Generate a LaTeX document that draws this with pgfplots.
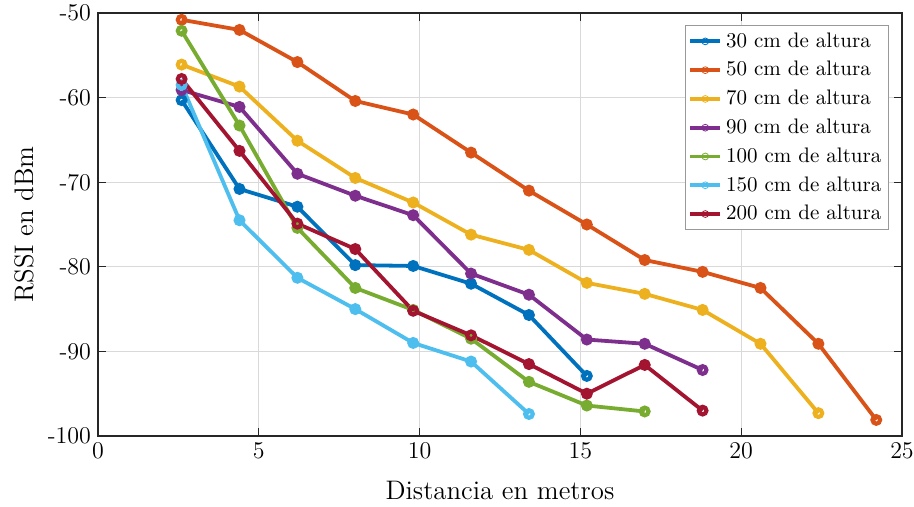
\documentclass[border=0pt]{standalone}
\usepackage{pgfplots}
\pgfplotsset{compat=1.18}
\definecolor{c1}{rgb}{0,0.447,0.741}
\definecolor{c2}{rgb}{0.85,0.325,0.098}
\definecolor{c3}{rgb}{0.929,0.694,0.125}
\definecolor{c4}{rgb}{0.494,0.184,0.556}
\definecolor{c5}{rgb}{0.466,0.674,0.188}
\definecolor{c6}{rgb}{0.301,0.745,0.933}
\definecolor{c7}{rgb}{0.635,0.078,0.184}
\definecolor{axc}{gray}{0.15}
\begin{document}
\begin{tikzpicture}
\begin{axis}[
  scale only axis, width=402pt, height=211.5pt,
  xmin=0, xmax=25, ymin=-100, ymax=-50,
  xtick={0,5,...,25}, ytick={-100,-90,...,-50},
  yticklabels={-100,-90,-80,-70,-60,-50},
  grid=major, major grid style={gray!30, line width=0.5pt},
  axis line style={axc, line width=0.6pt},
  tick style={axc, line width=0.6pt},
  tick align=inside, major tick length=4pt,
  ticklabel style={font=\fontsize{12}{14}\selectfont},
  xlabel={Distancia en metros}, ylabel={RSSI en dBm},
  label style={font=\fontsize{13.4}{16}\selectfont},
  xlabel style={yshift=-4.5pt},
  every axis plot/.append style={line width=1.9pt, mark=o, mark size=1.9pt, mark options={line width=2.1pt}},
  legend style={at={(rel axis cs:1,1)}, anchor=north east, xshift=-6.5pt, yshift=-6pt,
    draw=gray!80, line width=0.6pt, font=\fontsize{10.5}{12}\selectfont, inner xsep=1.5pt, inner ysep=1.5pt,
    cells={anchor=west}, row sep=1.6pt},
  legend image code/.code={\draw[mark repeat=2,mark phase=2,mark size=1.7pt, mark options={line width=0.4pt}] plot coordinates {(0pt,0pt)(7.5pt,0pt)(15pt,0pt)};},
  legend cell align=left,
]
\addplot[c1] coordinates {(2.6,-60.3)(4.4,-70.8)(6.2,-72.9)(8.0,-79.8)(9.8,-79.9)(11.6,-82.0)(13.4,-85.7)(15.2,-92.9)};
\addplot[c2] coordinates {(2.6,-50.8)(4.4,-52.0)(6.2,-55.8)(8.0,-60.4)(9.8,-62.0)(11.6,-66.5)(13.4,-71.0)(15.2,-75.0)(17.0,-79.2)(18.8,-80.6)(20.6,-82.5)(22.4,-89.1)(24.2,-98.1)};
\addplot[c3] coordinates {(2.6,-56.1)(4.4,-58.7)(6.2,-65.1)(8.0,-69.5)(9.8,-72.4)(11.6,-76.2)(13.4,-78.0)(15.2,-81.9)(17.0,-83.2)(18.8,-85.1)(20.6,-89.1)(22.4,-97.3)};
\addplot[c4] coordinates {(2.6,-59.1)(4.4,-61.1)(6.2,-69.0)(8.0,-71.6)(9.8,-73.9)(11.6,-80.8)(13.4,-83.3)(15.2,-88.6)(17.0,-89.1)(18.8,-92.2)};
\addplot[c5] coordinates {(2.6,-52.1)(4.4,-63.3)(6.2,-75.4)(8.0,-82.5)(9.8,-85.1)(11.6,-88.5)(13.4,-93.6)(15.2,-96.4)(17.0,-97.1)};
\addplot[c6] coordinates {(2.6,-58.5)(4.4,-74.5)(6.2,-81.3)(8.0,-85.0)(9.8,-89.0)(11.6,-91.2)(13.4,-97.4)};
\addplot[c7] coordinates {(2.6,-57.8)(4.4,-66.3)(6.2,-74.9)(8.0,-77.9)(9.8,-85.2)(11.6,-88.1)(13.4,-91.5)(15.2,-95.0)(17.0,-91.6)(18.8,-97.0)};
\legend{30 cm de altura,50 cm de altura,70 cm de altura,90 cm de altura,100 cm de altura,150 cm de altura,200 cm de altura}
\coordinate (SW) at (rel axis cs:0,0);
\coordinate (NE) at (rel axis cs:1,1);
\end{axis}
\path (SW) ++(-49pt,-35.5pt) coordinate (A);
\path (NE) ++(6pt,6.5pt) coordinate (B);
\pgfresetboundingbox
\useasboundingbox (A) rectangle (B);
\end{tikzpicture}
\end{document}
